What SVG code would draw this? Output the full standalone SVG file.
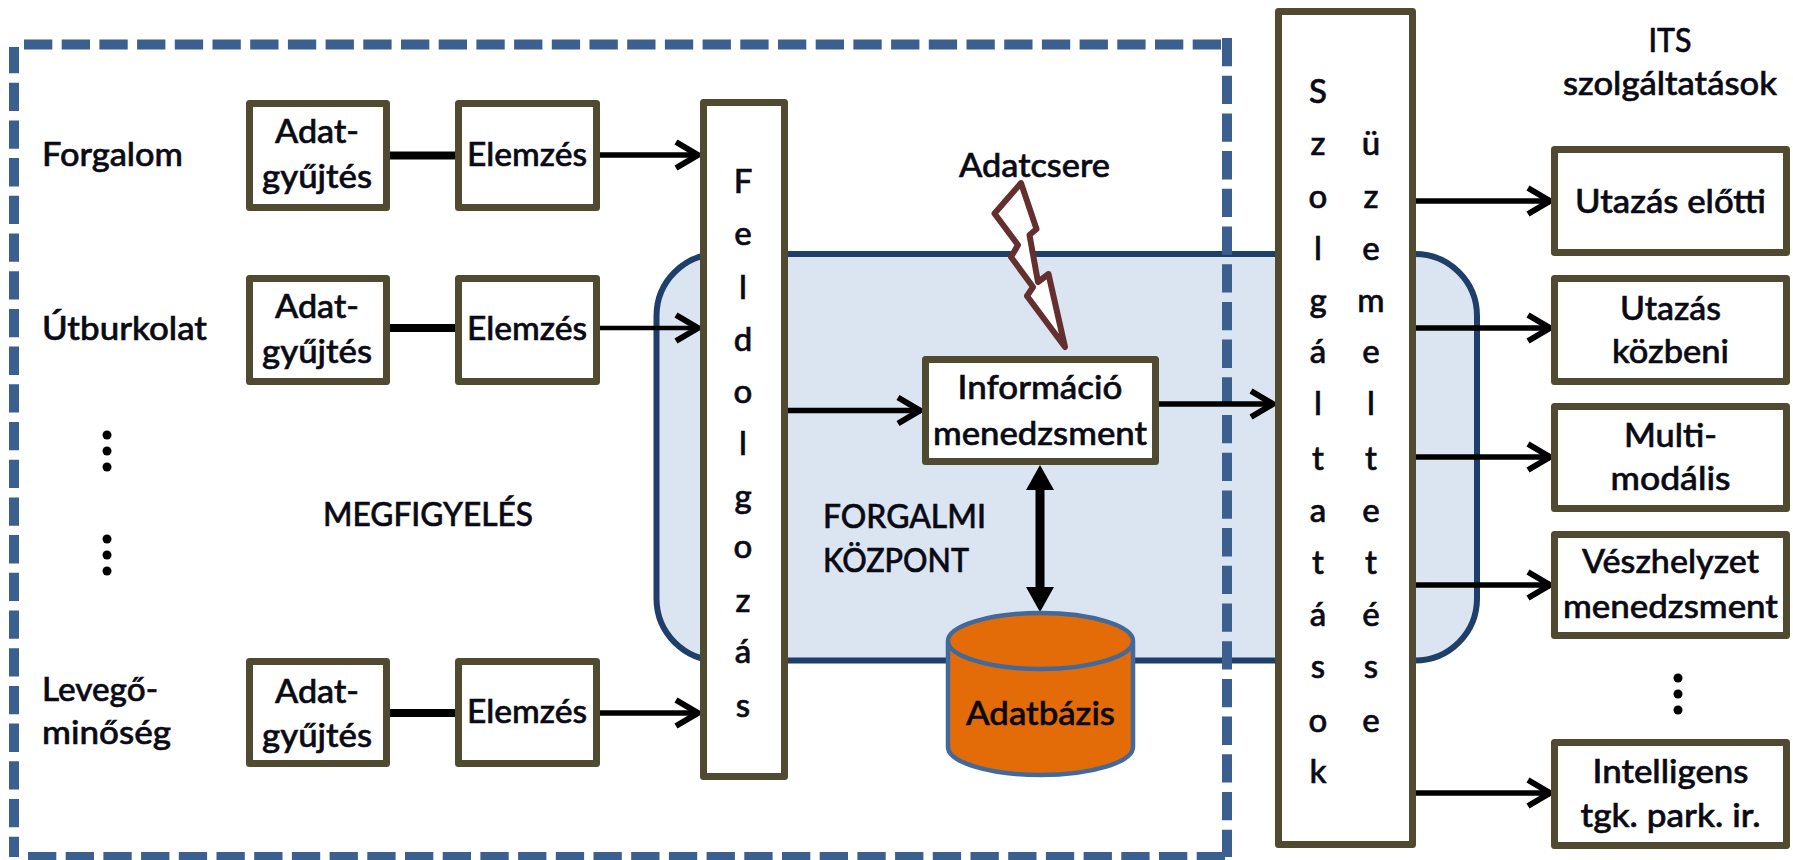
<svg xmlns="http://www.w3.org/2000/svg" width="1793" height="860" viewBox="0 0 1793 860">
<style>
text{font-family:Lato,"Liberation Sans",sans-serif;font-size:33px;font-weight:500;fill:#0a0a14;stroke:#0a0a14;stroke-width:.6}
.c{text-anchor:middle}
.b{fill:#fff;stroke:#4f4a30;stroke-width:7;stroke-linejoin:round}
.dash{fill:none;stroke:#3b5f8e;stroke-width:10;stroke-dasharray:28.3 9.4}
.link{stroke:#000;stroke-width:8;fill:none}
.arr{stroke:#000;stroke-width:5.5;fill:none;marker-end:url(#open)}
.dot{fill:#000}
</style>
<defs>
<marker id="open" markerUnits="userSpaceOnUse" markerWidth="40" markerHeight="40" viewBox="-30 -20 40 40" refX="0" refY="0" orient="auto"><path d="M-23-13L-1 0L-23 13" fill="none" stroke="#000" stroke-width="6"/></marker>
<marker id="tri" markerUnits="userSpaceOnUse" markerWidth="32" markerHeight="32" viewBox="-28 -16 32 32" refX="-25" refY="0" orient="auto-start-reverse"><path d="M-25-14L0 0L-25 14Z" fill="#000"/></marker>
</defs>
<g id="forgalmi-kozpont"><rect x="656.5" y="254" width="820.5" height="406.5" rx="62" fill="#dbe5f1" stroke="#1f3f6b" stroke-width="6"/></g>
<g id="megfigyeles-keret">
<path class="dash" d="M24 44.5H1227"/>
<path class="dash" d="M14 47V857" stroke-dashoffset="2"/>
<path class="dash" d="M1227 38V857"/>
<path class="dash" d="M28 857H1227"/>
</g>
<g id="connectors">
<path class="link" d="M390 155.500H455M390 328H455M390 713H455"/>
<path class="arr" d="M600 155H699"/>
<path class="arr" d="M600 328H699" style="stroke-width:4.500"/>
<path class="arr" d="M600 713H699"/>
<path class="arr" d="M788 410.500H921"/>
<path class="arr" d="M1159 404H1274"/>
<path class="arr" d="M1416 201H1551"/>
<path class="arr" d="M1416 328H1551"/>
<path class="arr" d="M1416 457H1551"/>
<path class="arr" d="M1416 585H1551"/>
<path class="arr" d="M1416 793H1551"/>
<path d="M1040 490V587" stroke="#000" stroke-width="9" fill="none" marker-start="url(#tri)" marker-end="url(#tri)"/>
</g>
<g id="labels-left">
<text x="42" y="166" textLength="141" lengthAdjust="spacingAndGlyphs">Forgalom</text>
<text x="42" y="340" textLength="165" lengthAdjust="spacingAndGlyphs">Útburkolat</text>
<text x="42" y="701" textLength="116" lengthAdjust="spacingAndGlyphs">Levegő-</text>
<text x="42" y="744" textLength="129" lengthAdjust="spacingAndGlyphs">minőség</text>
<text x="323" y="526" textLength="210" lengthAdjust="spacingAndGlyphs">MEGFIGYELÉS</text>
<circle class="dot" cx="107" cy="435" r="4.500"/><circle class="dot" cx="107" cy="451" r="4.500"/><circle class="dot" cx="107" cy="467" r="4.500"/>
<circle class="dot" cx="107" cy="539" r="4.500"/><circle class="dot" cx="107" cy="555" r="4.500"/><circle class="dot" cx="107" cy="571" r="4.500"/>
</g>
<g id="adat-1"><rect class="b" x="249.500" y="103.500" width="137" height="104"/><text class="c" x="317" y="143" textLength="84" lengthAdjust="spacingAndGlyphs">Adat-</text><text class="c" x="317" y="188" textLength="110" lengthAdjust="spacingAndGlyphs">gyűjtés</text></g>
<g id="elemzes-1"><rect class="b" x="458.500" y="103.500" width="138" height="104"/><text class="c" x="527" y="166" textLength="120" lengthAdjust="spacingAndGlyphs">Elemzés</text></g>
<g id="adat-2"><rect class="b" x="249.500" y="278.500" width="137" height="103"/><text class="c" x="317" y="318" textLength="84" lengthAdjust="spacingAndGlyphs">Adat-</text><text class="c" x="317" y="363" textLength="110" lengthAdjust="spacingAndGlyphs">gyűjtés</text></g>
<g id="elemzes-2"><rect class="b" x="458.500" y="278.500" width="138" height="103"/><text class="c" x="527" y="340" textLength="120" lengthAdjust="spacingAndGlyphs">Elemzés</text></g>
<g id="adat-3"><rect class="b" x="249.500" y="661.500" width="137" height="102"/><text class="c" x="317" y="703" textLength="84" lengthAdjust="spacingAndGlyphs">Adat-</text><text class="c" x="317" y="747" textLength="110" lengthAdjust="spacingAndGlyphs">gyűjtés</text></g>
<g id="elemzes-3"><rect class="b" x="458.500" y="661.500" width="138" height="102"/><text class="c" x="527" y="723" textLength="120" lengthAdjust="spacingAndGlyphs">Elemzés</text></g>
<g id="feldolgozas"><rect class="b" x="703.500" y="102.500" width="81" height="674"/>
<text class="c" x="743" y="193">F</text><text class="c" x="743" y="245">e</text><text class="c" x="743" y="299">l</text><text class="c" x="743" y="351">d</text><text class="c" x="743" y="403">o</text><text class="c" x="743" y="455">l</text><text class="c" x="743" y="508">g</text><text class="c" x="743" y="558">o</text><text class="c" x="743" y="612">z</text><text class="c" x="743" y="663">á</text><text class="c" x="743" y="717">s</text>
</g>
<g id="forgalmi-felirat"><text x="823" y="528" textLength="163" lengthAdjust="spacingAndGlyphs">FORGALMI</text><text x="823" y="572" textLength="146" lengthAdjust="spacingAndGlyphs">KÖZPONT</text></g>
<g id="adatcsere"><text x="959" y="177" textLength="151" lengthAdjust="spacingAndGlyphs">Adatcsere</text>
<path d="M1021 183L994.500 213.500L1018 245L1011 257L1033 287L1027 296L1065 347L1048.500 274L1038 282L1029.500 235L1036.500 229Z" fill="#fff" stroke="#632f2f" stroke-width="6" stroke-linejoin="round"/></g>
<g id="informacio"><rect class="b" x="925.500" y="359.500" width="230" height="102"/><text class="c" x="1040" y="399" textLength="165" lengthAdjust="spacingAndGlyphs">Információ</text><text class="c" x="1040" y="445" textLength="214" lengthAdjust="spacingAndGlyphs">menedzsment</text></g>
<g id="adatbazis"><path d="M948 641V747C948 762 989 775 1040.500 775C1092 775 1133 762 1133 747V641C1133 626 1092 613 1040.500 613C989 613 948 626 948 641C948 656 989 669 1040.500 669C1092 669 1133 656 1133 641" fill="#e36c09" stroke="#41699b" stroke-width="4.500"/><text class="c" x="1040.500" y="725" textLength="149" lengthAdjust="spacingAndGlyphs">Adatbázis</text></g>
<g id="szolgaltatasok"><rect class="b" x="1278.500" y="11.500" width="134" height="833"/>
<text class="c" x="1318" y="103">S</text><text class="c" x="1318" y="155">z</text><text class="c" x="1318" y="208">o</text><text class="c" x="1318" y="260">l</text><text class="c" x="1318" y="312">g</text><text class="c" x="1318" y="363">á</text><text class="c" x="1318" y="415">l</text><text class="c" x="1318" y="470">t</text><text class="c" x="1318" y="522">a</text><text class="c" x="1318" y="574">t</text><text class="c" x="1318" y="626">á</text><text class="c" x="1318" y="678">s</text><text class="c" x="1318" y="732">o</text><text class="c" x="1318" y="783">k</text>
<text class="c" x="1371" y="155">ü</text><text class="c" x="1371" y="208">z</text><text class="c" x="1371" y="260">e</text><text class="c" x="1371" y="312">m</text><text class="c" x="1371" y="363">e</text><text class="c" x="1371" y="415">l</text><text class="c" x="1371" y="470">t</text><text class="c" x="1371" y="522">e</text><text class="c" x="1371" y="574">t</text><text class="c" x="1371" y="626">é</text><text class="c" x="1371" y="678">s</text><text class="c" x="1371" y="732">e</text>
</g>
<g id="its-cim"><text class="c" x="1670" y="52" textLength="43" lengthAdjust="spacingAndGlyphs">ITS</text><text class="c" x="1670" y="95" textLength="214" lengthAdjust="spacingAndGlyphs">szolgáltatások</text></g>
<g id="utazas-elotti"><rect class="b" x="1554.500" y="149.500" width="232" height="103"/><text class="c" x="1670.500" y="213" textLength="191" lengthAdjust="spacingAndGlyphs">Utazás előtti</text></g>
<g id="utazas-kozbeni"><rect class="b" x="1554.500" y="278.500" width="232" height="103"/><text class="c" x="1670.500" y="320" textLength="101" lengthAdjust="spacingAndGlyphs">Utazás</text><text class="c" x="1670.500" y="363" textLength="117" lengthAdjust="spacingAndGlyphs">közbeni</text></g>
<g id="multimodalis"><rect class="b" x="1554.500" y="406.500" width="232" height="102"/><text class="c" x="1670.500" y="447" textLength="93" lengthAdjust="spacingAndGlyphs">Multi-</text><text class="c" x="1670.500" y="490" textLength="120" lengthAdjust="spacingAndGlyphs">modális</text></g>
<g id="veszhelyzet"><rect class="b" x="1554.500" y="534.500" width="232" height="101"/><text class="c" x="1670.500" y="573" textLength="177" lengthAdjust="spacingAndGlyphs">Vészhelyzet</text><text class="c" x="1670.500" y="618" textLength="215" lengthAdjust="spacingAndGlyphs">menedzsment</text></g>
<g id="pontok-jobb"><circle class="dot" cx="1678" cy="678" r="4.500"/><circle class="dot" cx="1678" cy="694" r="4.500"/><circle class="dot" cx="1678" cy="710" r="4.500"/></g>
<g id="intelligens"><rect class="b" x="1554.500" y="742.500" width="232" height="103"/><text class="c" x="1670.500" y="783" textLength="156" lengthAdjust="spacingAndGlyphs">Intelligens</text><text class="c" x="1670.500" y="827" textLength="180" lengthAdjust="spacingAndGlyphs">tgk. park. ir.</text></g>
</svg>
